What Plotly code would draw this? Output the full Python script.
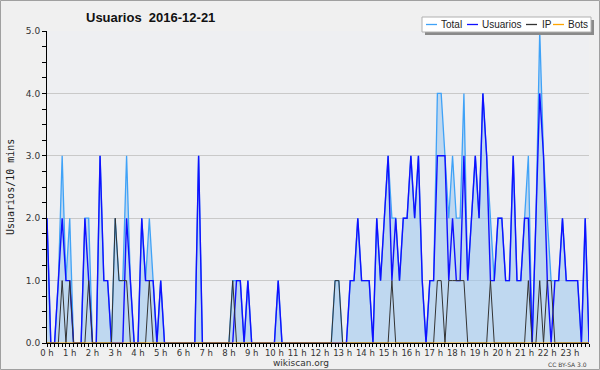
import plotly.graph_objects as go

# 10-minute slots for 2016-12-21 (144 values)
slots = list(range(144))
hours = list(range(24))
hour_labels = [f"{h} h" for h in hours]
series_names = ["Total", "Usuarios", "IP", "Bots"]

usuarios = [
    2,0,0,1,2,1,1,0,0,0,2,1,
    0,0,3,1,1,0,0,0,0,2,1,0,
    0,2,1,1,1,0,1,0,0,0,0,0,
    0,0,0,0,3,0,0,0,0,0,0,0,
    0,0,1,1,0,1,0,0,0,0,0,0,
    0,1,0,0,0,0,0,0,0,0,0,0,
    0,0,0,0,0,0,0,0,1,1,2,1,
    1,1,0,2,1,2,3,1,2,1,2,2,
    3,2,3,1,0,1,1,3,3,3,1,2,
    1,1,3,1,2,3,2,4,3,1,1,2,
    2,1,1,3,1,1,2,2,0,2,4,3,
    1,0,1,1,2,1,1,1,1,0,2,0,
]

ip = [
    0,0,0,0,1,0,1,0,0,0,0,1,
    0,0,0,0,0,0,2,1,1,1,0,0,
    0,0,0,1,0,0,0,0,0,0,0,0,
    0,0,0,0,0,0,0,0,0,0,0,0,
    0,1,0,0,0,0,0,0,0,0,0,0,
    0,0,0,0,0,0,0,0,0,0,0,0,
    0,0,0,0,1,1,0,0,0,0,0,0,
    0,0,0,0,0,0,0,1,0,0,0,0,
    0,0,0,0,0,0,0,1,1,0,1,1,
    1,1,1,0,0,0,0,0,0,1,0,0,
    0,0,0,0,0,0,0,1,0,0,1,0,
    1,1,0,0,0,0,0,0,0,0,0,0,
]

total = [
    2,0,0,1,3,1,2,0,0,0,2,2,
    0,0,3,1,1,0,2,1,1,3,1,0,
    0,2,1,2,1,0,1,0,0,0,0,0,
    0,0,0,0,3,0,0,0,0,0,0,0,
    0,1,1,1,0,1,0,0,0,0,0,0,
    0,1,0,0,0,0,0,0,0,0,0,0,
    0,0,0,0,1,1,0,0,1,1,2,1,
    1,1,0,2,1,2,3,2,2,1,2,2,
    3,2,3,1,0,1,1,4,4,3,2,3,
    2,2,4,1,2,3,2,4,3,2,1,2,
    2,1,1,3,1,1,2,3,0,2,5,3,
    2,1,1,1,2,1,1,1,1,0,2,0,
]

bots = [0] * 144

colors = {"Total": "#3fa2f7", "Usuarios": "#1010ff", "IP": "#333333", "Bots": "#ffa500"}

x = [s / 6 for s in slots]

fig = go.Figure()
fig.add_trace(go.Scatter(x=x, y=total, name="Total", mode="lines", showlegend=False,
                         line=dict(width=0), fill="tozeroy", fillcolor="rgba(160,200,238,0.6)",
                         hoverinfo="skip"))
fig.add_trace(go.Scatter(x=x, y=total, name="Total", mode="lines",
                         line=dict(color=colors["Total"], width=1.3)))
fig.add_trace(go.Scatter(x=x, y=usuarios, name="Usuarios", mode="lines",
                         line=dict(color=colors["Usuarios"], width=1.4)))
fig.add_trace(go.Scatter(x=x, y=ip, name="IP", mode="lines",
                         line=dict(color=colors["IP"], width=1)))
fig.add_trace(go.Scatter(x=x, y=bots, name="Bots", mode="lines",
                         line=dict(color=colors["Bots"], width=1)))

L, R, T, B = 47, 11, 31, 27
PW = 600 - L - R
PH = 370 - T - B


def px(xp):
    return (xp - L) / PW


def py(yp):
    return (370 - B - yp) / PH


shapes = [
    dict(type="rect", xref="paper", yref="paper", x0=px(0.5), x1=px(599.5), y0=py(369.5), y1=py(0.5),
         line=dict(color="#a0a0a0", width=1), fillcolor="rgba(0,0,0,0)", layer="below"),
    # legend shadow and box
    dict(type="rect", xref="paper", yref="paper", x0=px(425), x1=px(594), y0=py(35), y1=py(20),
         line=dict(width=0), fillcolor="#8a8a8a", layer="above"),
    dict(type="rect", xref="paper", yref="paper", x0=px(422), x1=px(591), y0=py(32), y1=py(17),
         line=dict(color="#b0b0b0", width=1), fillcolor="white", layer="above"),
]

annotations = [
    dict(text="<b>Usuarios\u00a0\u00a02016-12-21</b>", x=px(150), y=py(18), xref="paper", yref="paper",
         showarrow=False, font=dict(family="Liberation Sans", size=13, color="#111"), xanchor="center", yanchor="middle"),
    dict(text="Usuarios/10 mins", x=px(10), y=py(187), xref="paper", yref="paper", textangle=-90,
         showarrow=False, font=dict(family="DejaVu Sans Mono", size=10, color="#222"), xanchor="center", yanchor="middle"),
    dict(text="wikiscan.org", x=px(301), y=py(363), xref="paper", yref="paper",
         showarrow=False, font=dict(family="DejaVu Sans", size=9, color="#333"), xanchor="center", yanchor="middle"),
    dict(text="CC BY-SA 3.0", x=px(589), y=py(364), xref="paper", yref="paper",
         showarrow=False, font=dict(family="DejaVu Sans", size=6, color="#444"), xanchor="right", yanchor="middle"),
]

# manual compact legend (line sample + label)
leg_line_x = [426, 467, 526, 553]
leg_text_x = [440, 481, 541, 567]
for name, lx, tx in zip(series_names, leg_line_x, leg_text_x):
    shapes.append(dict(type="line", xref="paper", yref="paper", x0=px(lx), x1=px(lx + 11),
                       y0=py(24.5), y1=py(24.5), line=dict(color=colors[name], width=1.3), layer="above"))
    annotations.append(dict(text=name, x=px(tx), y=py(24.5), xref="paper", yref="paper", showarrow=False,
                            font=dict(family="Liberation Sans", size=10, color="#222"),
                            xanchor="left", yanchor="middle", borderpad=0))

fig.update_layout(
    width=600, height=370,
    margin=dict(l=L, r=R, t=T, b=B, pad=0),
    paper_bgcolor="#f0f0f0",
    plot_bgcolor="#eeeff2",
    font=dict(family="DejaVu Sans", size=9, color="#333"),
    showlegend=False,
    xaxis=dict(range=[0, 143 / 6], tickmode="array", tickvals=hours, ticktext=hour_labels,
               ticks="outside", ticklen=2, tickcolor="#000", showgrid=False,
               showline=True, linecolor="#000", linewidth=1, zeroline=False,
               tickfont=dict(size=8.5, color="#333"),
               minor=dict(dtick=1 / 6, tick0=0, ticks="outside", ticklen=3, tickcolor="#000", showgrid=False)),
    yaxis=dict(range=[0, 5], dtick=1, tickformat=".1f", ticks="outside", ticklen=4,
               tickcolor="#000", showgrid=True, gridcolor="#c9c9c9", gridwidth=1,
               showline=True, linecolor="#000", linewidth=1, zeroline=False,
               tickfont=dict(size=9, color="#333"),
               minor=dict(dtick=0.25, ticks="outside", ticklen=4, tickcolor="#000", showgrid=False)),
    shapes=shapes,
    annotations=annotations,
)

fig.write_html("out.html", config={"displayModeBar": False},
               post_script="document.body.style.margin='0px';")
